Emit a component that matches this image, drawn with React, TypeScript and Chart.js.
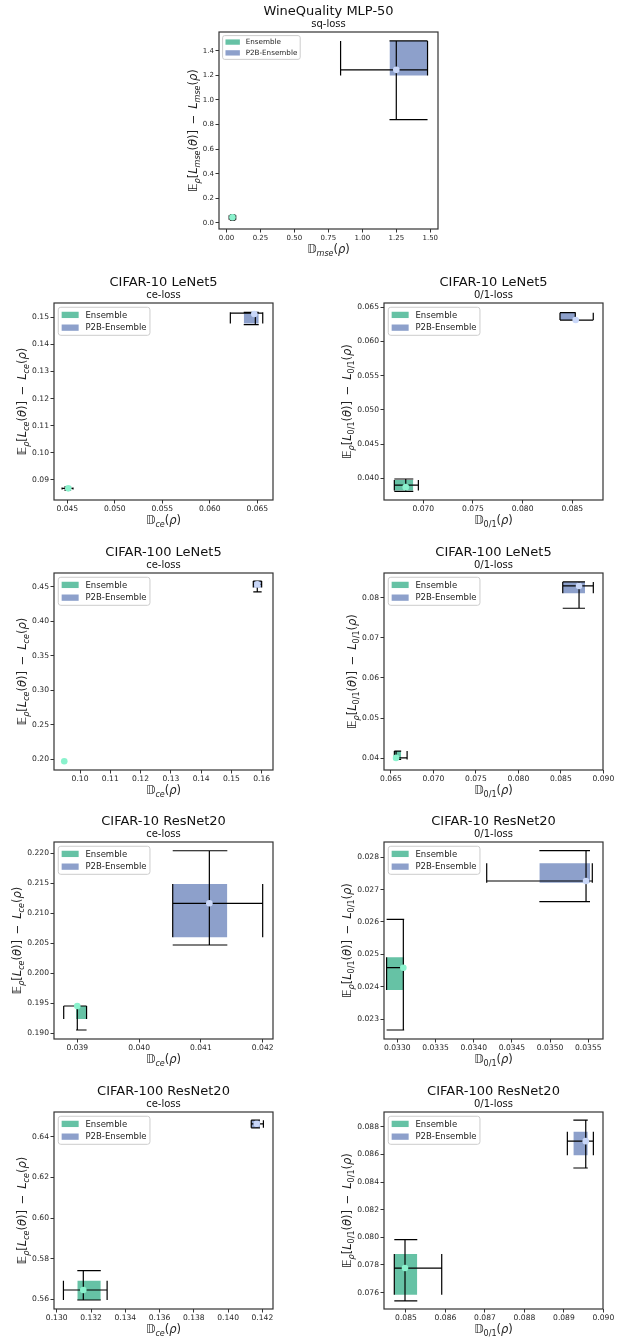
import React, { useEffect, useRef } from "react";
import { Chart, registerables } from "chart.js";

Chart.register(...registerables);

const FONT = '"DejaVu Sans", "Liberation Sans", sans-serif';

// each series: [pointX, pointY, boxX0, boxX1, boxY0, boxY1, whiskerX, whiskerY, spanX0, spanX1, spanY0, spanY1]
const wineEnsemble = [0.044, 0.046, 0.025, 0.065, 0.025, 0.062, 0.044, 0.046, 0.02, 0.068, 0.022, 0.065];
const wineP2B = [1.25, 1.245, 1.2, 1.48, 1.2, 1.48, 1.25, 1.245, 0.84, 1.48, 0.84, 1.48];
const c10LeCeEnsemble = [0.0451, 0.08684, 0.0447, 0.0454, 0.0864, 0.0872, 0.0451, 0.08684, 0.04445, 0.0456, 0.0862, 0.0874];
const c10LeCeP2B = [0.06468, 0.15121, 0.06357, 0.06515, 0.14765, 0.15184, 0.06479, 0.1515, 0.06216, 0.06557, 0.14728, 0.15184];
const c10Le01Ensemble = [0.06823, 0.03871, 0.06708, 0.06899, 0.03821, 0.03975, 0.06823, 0.039, 0.06708, 0.0695, 0.0381, 0.0399];
const c10Le01P2B = [0.08534, 0.06314, 0.08376, 0.08534, 0.06314, 0.06421, 0.0853, 0.06314, 0.08376, 0.08711, 0.06314, 0.06421];
const c100LeCeEnsemble = [0.0948, 0.1971, 0.0947, 0.0949, 0.1968, 0.1974, 0.0948, 0.1971, 0.0947, 0.0949, 0.1968, 0.1974];
const c100LeCeP2B = [0.15855, 0.4534, 0.15723, 0.15999, 0.4491, 0.4582, 0.15855, 0.4534, 0.15723, 0.15999, 0.4426, 0.4582];
const c100Le01Ensemble = [0.0656, 0.0401, 0.0654, 0.0662, 0.0397, 0.0418, 0.0656, 0.0401, 0.0654, 0.0669, 0.0397, 0.0418];
const c100Le01P2B = [0.08714, 0.08291, 0.08522, 0.08784, 0.0811, 0.08391, 0.08714, 0.08291, 0.08522, 0.08882, 0.07736, 0.08391];
const c10ResCeEnsemble = [0.039, 0.19455, 0.03898, 0.03915, 0.19238, 0.19455, 0.039, 0.19455, 0.03878, 0.03915, 0.19055, 0.19455];
const c10ResCeP2B = [0.041137, 0.21167, 0.040544, 0.041428, 0.206, 0.21488, 0.041137, 0.21167, 0.040544, 0.042, 0.20472, 0.22043];
const c10Res01Ensemble = [0.033079, 0.024586, 0.03286, 0.03309, 0.023897, 0.024908, 0.033079, 0.024586, 0.03286, 0.033079, 0.02266, 0.026083];
const c10Res01P2B = [0.03547, 0.027267, 0.034859, 0.035522, 0.027215, 0.027814, 0.03547, 0.027267, 0.03417, 0.035552, 0.026627, 0.028204];
const c100ResCeEnsemble = [0.13155, 0.56457, 0.1312, 0.13257, 0.55966, 0.56915, 0.13155, 0.56457, 0.13039, 0.13294, 0.55966, 0.57407];
const c100ResCeP2B = [0.14167, 0.64632, 0.14135, 0.14186, 0.64435, 0.64812, 0.14167, 0.64632, 0.14135, 0.14206, 0.64435, 0.64812];
const c100Res01Ensemble = [0.084975, 0.077775, 0.084704, 0.085286, 0.075833, 0.078793, 0.084975, 0.077775, 0.084704, 0.085905, 0.075396, 0.079833];
const c100Res01P2B = [0.089553, 0.08696, 0.089239, 0.089604, 0.085942, 0.087636, 0.089553, 0.08696, 0.089087, 0.089746, 0.085018, 0.088487];

const seriesNames = ["Ensemble", "P2B-Ensemble"];
const boxColors = ["#66c2a5", "#8da0cb"];
const pointColors = ["#8af2cd", "#c9d7f8"];

// tick labels
const wineXTicks = ["0.00", "0.25", "0.50", "0.75", "1.00", "1.25", "1.50"];
const wineYTicks = ["0.0", "0.2", "0.4", "0.6", "0.8", "1.0", "1.2", "1.4"];
const c10LeCeXTicks = ["0.045", "0.050", "0.055", "0.060", "0.065"];
const c10LeCeYTicks = ["0.09", "0.10", "0.11", "0.12", "0.13", "0.14", "0.15"];
const c10Le01XTicks = ["0.070", "0.075", "0.080", "0.085"];
const c10Le01YTicks = ["0.040", "0.045", "0.050", "0.055", "0.060", "0.065"];
const c100LeCeXTicks = ["0.10", "0.11", "0.12", "0.13", "0.14", "0.15", "0.16"];
const c100LeCeYTicks = ["0.20", "0.25", "0.30", "0.35", "0.40", "0.45"];
const c100Le01XTicks = ["0.065", "0.070", "0.075", "0.080", "0.085", "0.090"];
const c100Le01YTicks = ["0.04", "0.05", "0.06", "0.07", "0.08"];
const c10ResCeXTicks = ["0.039", "0.040", "0.041", "0.042"];
const c10ResCeYTicks = ["0.190", "0.195", "0.200", "0.205", "0.210", "0.215", "0.220"];
const c10Res01XTicks = ["0.0330", "0.0335", "0.0340", "0.0345", "0.0350", "0.0355"];
const c10Res01YTicks = ["0.023", "0.024", "0.025", "0.026", "0.027", "0.028"];
const c100ResCeXTicks = ["0.130", "0.132", "0.134", "0.136", "0.138", "0.140", "0.142"];
const c100ResCeYTicks = ["0.56", "0.58", "0.60", "0.62", "0.64"];
const c100Res01XTicks = ["0.085", "0.086", "0.087", "0.088", "0.089", "0.090"];
const c100Res01YTicks = ["0.076", "0.078", "0.080", "0.082", "0.084", "0.086", "0.088"];

// axis ranges [min, max]
const wineXRange = [-0.055, 1.557];
const wineYRange = [-0.05, 1.553];
const c10LeCeXRange = [0.0436, 0.06665];
const c10LeCeYRange = [0.08254, 0.15526];
const c10Le01XRange = [0.06604, 0.08809];
const c10Le01YRange = [0.03683, 0.06563];
const c100LeCeXRange = [0.09141, 0.16374];
const c100LeCeYRange = [0.18442, 0.46995];
const c100Le01XRange = [0.06418, 0.08996];
const c100Le01YRange = [0.03709, 0.08614];
const c10ResCeXRange = [0.038623, 0.042167];
const c10ResCeYRange = [0.18905, 0.22189];
const c10Res01XRange = [0.032826, 0.035692];
const c10Res01YRange = [0.022382, 0.028473];
const c100ResCeXRange = [0.12984, 0.14262];
const c100ResCeYRange = [0.55523, 0.65215];
const c100Res01XRange = [0.084443, 0.08999];
const c100Res01YRange = [0.07481, 0.08907];

type Cfg = {
  title: string;
  sub: string;
  loss: string;
  series: number[][];
  xTicks: string[];
  yTicks: string[];
  xRange: number[];
  yRange: number[];
};

const panels: Cfg[] = [
  { title: "WineQuality MLP-50", sub: "sq-loss", loss: "mse", series: [wineEnsemble, wineP2B], xTicks: wineXTicks, yTicks: wineYTicks, xRange: wineXRange, yRange: wineYRange },
  { title: "CIFAR-10 LeNet5", sub: "ce-loss", loss: "ce", series: [c10LeCeEnsemble, c10LeCeP2B], xTicks: c10LeCeXTicks, yTicks: c10LeCeYTicks, xRange: c10LeCeXRange, yRange: c10LeCeYRange },
  { title: "CIFAR-10 LeNet5", sub: "0/1-loss", loss: "01", series: [c10Le01Ensemble, c10Le01P2B], xTicks: c10Le01XTicks, yTicks: c10Le01YTicks, xRange: c10Le01XRange, yRange: c10Le01YRange },
  { title: "CIFAR-100 LeNet5", sub: "ce-loss", loss: "ce", series: [c100LeCeEnsemble, c100LeCeP2B], xTicks: c100LeCeXTicks, yTicks: c100LeCeYTicks, xRange: c100LeCeXRange, yRange: c100LeCeYRange },
  { title: "CIFAR-100 LeNet5", sub: "0/1-loss", loss: "01", series: [c100Le01Ensemble, c100Le01P2B], xTicks: c100Le01XTicks, yTicks: c100Le01YTicks, xRange: c100Le01XRange, yRange: c100Le01YRange },
  { title: "CIFAR-10 ResNet20", sub: "ce-loss", loss: "ce", series: [c10ResCeEnsemble, c10ResCeP2B], xTicks: c10ResCeXTicks, yTicks: c10ResCeYTicks, xRange: c10ResCeXRange, yRange: c10ResCeYRange },
  { title: "CIFAR-10 ResNet20", sub: "0/1-loss", loss: "01", series: [c10Res01Ensemble, c10Res01P2B], xTicks: c10Res01XTicks, yTicks: c10Res01YTicks, xRange: c10Res01XRange, yRange: c10Res01YRange },
  { title: "CIFAR-100 ResNet20", sub: "ce-loss", loss: "ce", series: [c100ResCeEnsemble, c100ResCeP2B], xTicks: c100ResCeXTicks, yTicks: c100ResCeYTicks, xRange: c100ResCeXRange, yRange: c100ResCeYRange },
  { title: "CIFAR-100 ResNet20", sub: "0/1-loss", loss: "01", series: [c100Res01Ensemble, c100Res01P2B], xTicks: c100Res01XTicks, yTicks: c100Res01YTicks, xRange: c100Res01XRange, yRange: c100Res01YRange },
];

// layout: canvas left/top, y-axis width, tick font, legend font
const layouts = [
  { left: 165, top: 0, yw: 54, tick: 7, legend: 7.2 },
  { left: 0, top: 271, yw: 54, tick: 7.6, legend: 8.5 },
  { left: 310, top: 271, yw: 74, tick: 7.6, legend: 8.5 },
  { left: 0, top: 541, yw: 54, tick: 7.6, legend: 8.5 },
  { left: 310, top: 541, yw: 74, tick: 7.6, legend: 8.5 },
  { left: 0, top: 810, yw: 54, tick: 7.6, legend: 8.5 },
  { left: 310, top: 810, yw: 74, tick: 7.6, legend: 8.5 },
  { left: 0, top: 1080, yw: 54, tick: 7.6, legend: 8.5 },
  { left: 310, top: 1080, yw: 74, tick: 7.6, legend: 8.5 },
];

const AX_W = 219;
const AX_H = 197;
const TOP_PAD = 32;
const X_H = 32;
const RIGHT_PAD = 15;
const TICK_LEN = 3.5;
const TICK_PAD = 1.5;

type Seg = { t: string; it?: boolean; sub?: boolean };

function subSeg(loss: string): Seg {
  if (loss === "01") return { t: "0/1", sub: true };
  return { t: loss, it: true, sub: true };
}

function yLabelSegs(loss: string): Seg[] {
  const s = subSeg(loss);
  return [
    { t: "𝔼" },
    { t: "ρ", it: true, sub: true },
    { t: "[" },
    { t: "L", it: true },
    s,
    { t: "(" },
    { t: "θ", it: true },
    { t: ")]" },
    { t: "\u2002−\u2002" },
    { t: "L", it: true },
    s,
    { t: "(" },
    { t: "ρ", it: true },
    { t: ")" },
  ];
}

function xLabelSegs(loss: string): Seg[] {
  return [{ t: "𝔻" }, subSeg(loss), { t: "(" }, { t: "ρ", it: true }, { t: ")" }];
}

function drawMath(ctx: CanvasRenderingContext2D, segs: Seg[], size: number) {
  const parts = segs.map((s) => {
    const fs = s.sub ? size * 0.7 : size;
    const font = `${s.it ? "italic " : ""}${fs}px ${FONT}`;
    ctx.font = font;
    return { ...s, font, w: ctx.measureText(s.t).width };
  });
  const total = parts.reduce((a, p) => a + p.w, 0);
  let x = -total / 2;
  ctx.textAlign = "left";
  ctx.textBaseline = "alphabetic";
  for (const p of parts) {
    ctx.font = p.font;
    ctx.fillText(p.t, x, p.sub ? size * 0.22 : 0);
    x += p.w;
  }
}

function roundRectPath(ctx: CanvasRenderingContext2D, x: number, y: number, w: number, h: number, r: number) {
  ctx.beginPath();
  ctx.moveTo(x + r, y);
  ctx.lineTo(x + w - r, y);
  ctx.arcTo(x + w, y, x + w, y + r, r);
  ctx.lineTo(x + w, y + h - r);
  ctx.arcTo(x + w, y + h, x + w - r, y + h, r);
  ctx.lineTo(x + r, y + h);
  ctx.arcTo(x, y + h, x, y + h - r, r);
  ctx.lineTo(x, y + r);
  ctx.arcTo(x, y, x + r, y, r);
  ctx.closePath();
}

function Panel({ cfg, lay }: { cfg: Cfg; lay: (typeof layouts)[number] }) {
  const ref = useRef<HTMLCanvasElement>(null);
  const width = lay.yw + AX_W + RIGHT_PAD;
  const height = TOP_PAD + AX_H + X_H;

  useEffect(() => {
    const canvas = ref.current;
    if (!canvas) return;
    const datasets: any[] = [];
    cfg.series.forEach((a, s) => {
      const [px, py, bx0, bx1, by0, by1, cx, cy, wx0, wx1, wy0, wy1] = a;
      datasets.push({
        type: "line",
        label: seriesNames[s] + " mean",
        data: [{ x: px, y: py }],
        showLine: false,
        pointRadius: 3.3,
        pointHoverRadius: 3.3,
        pointBackgroundColor: pointColors[s],
        pointBorderWidth: 0,
        pointBorderColor: pointColors[s],
        order: 1,
      });
      datasets.push({
        type: "line",
        label: seriesNames[s] + " range",
        data: [
          { x: wx0, y: cy }, { x: wx1, y: cy }, { x: wx1, y: null },
          { x: wx0, y: by0 }, { x: wx0, y: by1 }, { x: wx0, y: null },
          { x: wx1, y: by0 }, { x: wx1, y: by1 }, { x: wx1, y: null },
          { x: cx, y: wy0 }, { x: cx, y: wy1 }, { x: cx, y: null },
          { x: bx0, y: wy0 }, { x: bx1, y: wy0 }, { x: bx1, y: null },
          { x: bx0, y: wy1 }, { x: bx1, y: wy1 },
        ],
        borderColor: "#000",
        borderWidth: 1.2,
        pointRadius: 0,
        pointHoverRadius: 0,
        fill: false,
        spanGaps: false,
        order: 2,
      });
      datasets.push({
        type: "line",
        label: seriesNames[s],
        data: [{ x: bx0, y: by1 }, { x: bx1, y: by1 }],
        borderColor: "rgba(0,0,0,0)",
        borderWidth: 0,
        pointRadius: 0,
        pointHoverRadius: 0,
        fill: { value: by0 },
        backgroundColor: boxColors[s],
        order: 3,
      });
    });

    const xTickVals = cfg.xTicks.map((t) => parseFloat(t));
    const yTickVals = cfg.yTicks.map((t) => parseFloat(t));

    const decor = {
      id: "decor",
      afterDraw(chart: any) {
        const ctx: CanvasRenderingContext2D = chart.ctx;
        const ca = chart.chartArea;
        const midX = (ca.left + ca.right) / 2;
        const midY = (ca.top + ca.bottom) / 2;
        ctx.save();
        // legend
        const f = lay.legend;
        ctx.font = `${f}px ${FONT}`;
        const tw = Math.max(...seriesNames.map((n) => ctx.measureText(n).width));
        const lx = ca.left + 0.5 * f;
        const ly = ca.top + 0.5 * f;
        const rowH = f;
        const lw = 3.6 * f + tw;
        const lh = 0.8 * f + 2 * rowH + 0.5 * f;
        roundRectPath(ctx, lx, ly, lw, lh, 0.3 * f);
        ctx.fillStyle = "rgba(255,255,255,0.8)";
        ctx.fill();
        ctx.strokeStyle = "#cccccc";
        ctx.lineWidth = 1;
        ctx.stroke();
        seriesNames.forEach((n, i) => {
          const yc = ly + 0.4 * f + rowH / 2 + i * (rowH + 0.5 * f);
          ctx.fillStyle = boxColors[i];
          ctx.fillRect(lx + 0.4 * f, yc - 0.37 * f, 2 * f, 0.74 * f);
          ctx.fillStyle = "#222";
          ctx.font = `${f}px ${FONT}`;
          ctx.textAlign = "left";
          ctx.textBaseline = "middle";
          ctx.fillText(n, lx + 3.2 * f, yc + 0.5);
        });
        // frame
        ctx.strokeStyle = "#333";
        ctx.lineWidth = 1.2;
        ctx.strokeRect(ca.left, ca.top, ca.right - ca.left, ca.bottom - ca.top);
        // titles
        ctx.fillStyle = "#111";
        ctx.textAlign = "center";
        ctx.textBaseline = "middle";
        ctx.font = `13px ${FONT}`;
        ctx.fillText(cfg.title, midX, ca.top - 20.5);
        ctx.font = `10px ${FONT}`;
        ctx.fillText(cfg.sub, midX, ca.top - 8);
        // axis labels
        const ls = 11.5;
        ctx.fillStyle = "#222";
        ctx.save();
        ctx.translate(midX, ca.bottom + 20.5 + ls * 0.33);
        drawMath(ctx, xLabelSegs(cfg.loss), ls);
        ctx.restore();
        ctx.font = `${lay.tick}px ${FONT}`;
        const maxTickW = Math.max(...cfg.yTicks.map((t) => ctx.measureText(t).width));
        const tickLeft = ca.left - TICK_LEN - TICK_PAD - maxTickW;
        const baseX = tickLeft - 3 - 0.25 * ls;
        ctx.save();
        ctx.translate(baseX, midY);
        ctx.rotate(-Math.PI / 2);
        drawMath(ctx, yLabelSegs(cfg.loss), ls);
        ctx.restore();
        ctx.restore();
      },
    };

    const tickFont = { size: lay.tick, family: FONT };
    const chart = new Chart(canvas, {
      type: "line",
      data: { datasets },
      options: {
        responsive: false,
        maintainAspectRatio: false,
        animation: false,
        events: [],
        layout: { padding: { top: TOP_PAD, right: RIGHT_PAD, left: 0, bottom: 0 } },
        plugins: { legend: { display: false }, tooltip: { enabled: false }, title: { display: false } },
        scales: {
          x: {
            type: "linear",
            position: "bottom",
            min: cfg.xRange[0],
            max: cfg.xRange[1],
            afterBuildTicks: (sc: any) => {
              sc.ticks = xTickVals.map((v) => ({ value: v }));
            },
            afterFit: (sc: any) => {
              sc.height = X_H;
            },
            ticks: {
              autoSkip: false,
              maxRotation: 0,
              minRotation: 0,
              padding: 1,
              color: "#262626",
              font: tickFont,
              callback: (_v: any, i: number) => cfg.xTicks[i],
            },
            grid: { display: true, drawOnChartArea: false, drawTicks: true, tickLength: TICK_LEN, tickColor: "#333", tickWidth: 1 },
            border: { display: false },
          },
          y: {
            type: "linear",
            position: "left",
            min: cfg.yRange[0],
            max: cfg.yRange[1],
            afterBuildTicks: (sc: any) => {
              sc.ticks = yTickVals.map((v) => ({ value: v }));
            },
            afterFit: (sc: any) => {
              sc.width = lay.yw;
            },
            ticks: {
              autoSkip: false,
              padding: TICK_PAD,
              color: "#262626",
              font: tickFont,
              callback: (_v: any, i: number) => cfg.yTicks[i],
            },
            grid: { display: true, drawOnChartArea: false, drawTicks: true, tickLength: TICK_LEN, tickColor: "#333", tickWidth: 1 },
            border: { display: false },
          },
        },
      } as any,
      plugins: [decor as any],
    });
    return () => chart.destroy();
  }, []);

  return (
    <canvas
      ref={ref}
      width={width}
      height={height}
      style={{ position: "absolute", left: lay.left, top: lay.top, width, height }}
    />
  );
}

export default function App() {
  return (
    <div
      style={{
        position: "absolute",
        left: 0,
        top: 0,
        width: 618,
        height: 1337,
        overflow: "hidden",
        background: "#fff",
      }}
    >
      {panels.map((cfg, i) => (
        <Panel key={i} cfg={cfg} lay={layouts[i]} />
      ))}
    </div>
  );
}
